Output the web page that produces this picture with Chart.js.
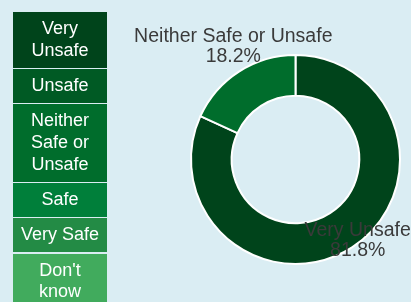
<!DOCTYPE html>
<html>
<head>
<meta charset="utf-8">
<script src="https://cdn.jsdelivr.net/npm/chart.js@4"></script>
<style>
  html, body { margin: 0; padding: 0; }
  body { width: 411px; height: 302px; background: #daedf3; overflow: hidden; position: relative; font-family: "Liberation Sans", Arial, sans-serif; }
  #wrap { position: absolute; left: 0; top: 0; width: 411px; height: 302px; }
  #legende { position: absolute; left: 13px; top: 12px; width: 94px; z-index: 2; }
  .leg-item { color: #ffffff; font-size: 18px; line-height: 21.75px; text-align: center; padding: 6px 2px; margin-bottom: 1.5px; box-sizing: border-box; }
</style>
</head>
<body>
<div id="legende"></div>
<div id="wrap"><canvas id="grafico" width="411" height="302"></canvas></div>
<script>
const categorias = ["Very Unsafe", "Unsafe", "Neither Safe or Unsafe", "Safe", "Very Safe", "Don't know"];
const legendaLinhas = [["Very", "Unsafe"], ["Unsafe"], ["Neither", "Safe or", "Unsafe"], ["Safe"], ["Very Safe"], ["Don't", "know"]];
const percentuais = [81.8, 0, 18.2, 0, 0, 0];
const cores = ["#00441b", "#005a24", "#006d2c", "#007f3a", "#238b45", "#41ab5d"];

// Legenda em HTML à esquerda
const legende = document.getElementById("legende");
categorias.forEach((cat, i) => {
  const item = document.createElement("div");
  item.className = "leg-item";
  item.style.background = cores[i];
  item.innerHTML = legendaLinhas[i].join("<br>");
  legende.appendChild(item);
});

// Rótulos fora do anel
const rotulosPlugin = {
  id: "rotulos",
  afterDatasetsDraw(chart) {
    const ctx = chart.ctx;
    const meta = chart.getDatasetMeta(0);
    ctx.save();
    ctx.font = '19.5px "Liberation Sans", Arial, sans-serif';
    ctx.fillStyle = "#3a3a3a";
    ctx.textAlign = "center";
    ctx.textBaseline = "middle";
    meta.data.forEach((arc, i) => {
      if (!percentuais[i]) return;
      const meio = (arc.startAngle + arc.endAngle) / 2;
      const r = arc.outerRadius * 1.1;
      const x = arc.x + Math.cos(meio) * r;
      const y = arc.y + Math.sin(meio) * r;
      ctx.fillText(categorias[i], x, y - 26);
      ctx.fillText(percentuais[i].toFixed(1) + "%", x, y - 6);
    });
    ctx.restore();
  },
};

new Chart(document.getElementById("grafico"), {
  type: "doughnut",
  data: {
    labels: categorias,
    datasets: [
      {
        data: percentuais,
        backgroundColor: cores,
        borderColor: "#ffffff",
        borderWidth: 2,
      },
    ],
  },
  options: {
    responsive: false,
    animation: false,
    cutout: "61%",
    layout: { padding: { left: 190, right: 10, top: 54, bottom: 37 } },
    plugins: {
      legend: { display: false },
      tooltip: { enabled: false },
    },
  },
  plugins: [rotulosPlugin],
});
</script>
</body>
</html>
